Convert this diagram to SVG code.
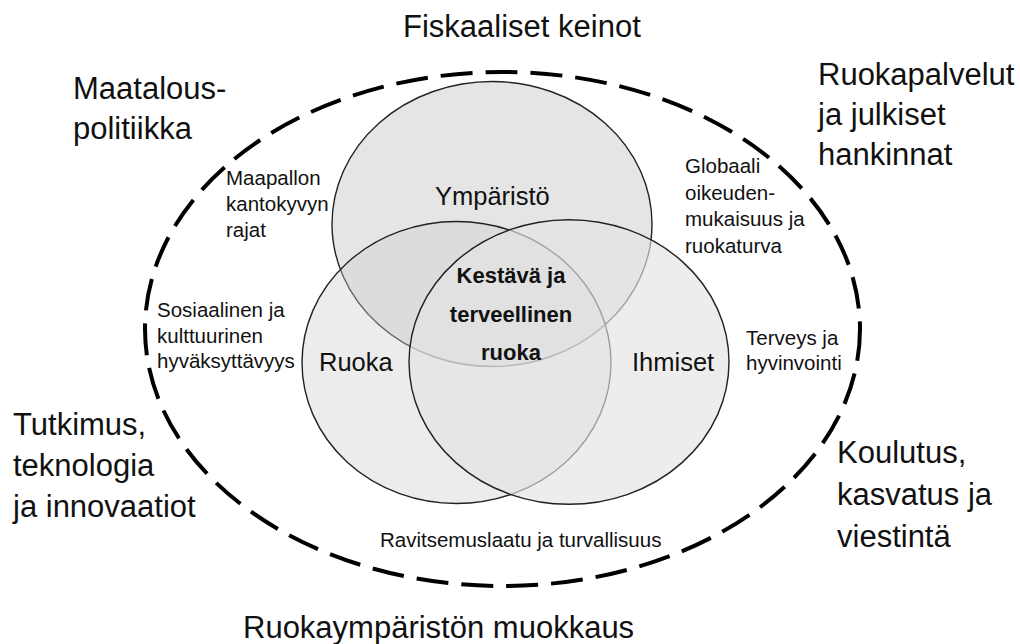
<svg xmlns="http://www.w3.org/2000/svg" width="1020" height="644" viewBox="0 0 1020 644">
<style>
text{font-family:"Liberation Sans",Arial,sans-serif;fill:#111}
.big{font-size:31px}
.mid{font-size:25.5px}
.sm{font-size:20.5px}
.bold{font-size:22px;font-weight:bold;text-anchor:middle}
.venn{stroke:#222;stroke-width:1.4}
</style>
<rect width="1020" height="644" fill="#fff"/>
<g id="frame">
<ellipse cx="502.5" cy="329" rx="357.5" ry="257" fill="none" stroke="#000" stroke-width="4" stroke-dasharray="32 13"/>
</g>
<g id="ymparisto">
<ellipse class="venn" cx="492" cy="224" rx="160" ry="142.5" fill="#e5e5e5" stroke="#333"/>
<text class="mid" x="435" y="205">Ympäristö</text>
</g>
<g id="ruoka">
<ellipse class="venn" cx="456.5" cy="362.5" rx="154.5" ry="141" fill="#cdcdcd" fill-opacity="0.385"/>
<text class="mid" x="319" y="371">Ruoka</text>
</g>
<g id="ihmiset">
<ellipse class="venn" cx="569" cy="362" rx="160" ry="142.3" fill="#e4e4e4" fill-opacity="0.65"/>
<text class="mid" x="632" y="371">Ihmiset</text>
</g>
<g id="keskus">
<text class="bold" x="511" y="283">Kestävä ja</text>
<text class="bold" x="511" y="322">terveellinen</text>
<text class="bold" x="511" y="360">ruoka</text>
</g>
<g id="connectors"></g>
<g id="maapallo">
<text class="sm" x="226" y="185">Maapallon</text>
<text class="sm" x="226" y="211">kantokyvyn</text>
<text class="sm" x="226" y="237">rajat</text>
</g>
<g id="globaali">
<text class="sm" x="685" y="173">Globaali</text>
<text class="sm" x="685" y="200">oikeuden-</text>
<text class="sm" x="685" y="226">mukaisuus ja</text>
<text class="sm" x="685" y="253">ruokaturva</text>
</g>
<g id="sosiaalinen">
<text class="sm" x="157" y="317">Sosiaalinen ja</text>
<text class="sm" x="157" y="343">kulttuurinen</text>
<text class="sm" x="157" y="368">hyväksyttävyys</text>
</g>
<g id="terveys">
<text class="sm" x="746" y="345">Terveys ja</text>
<text class="sm" x="746" y="370">hyvinvointi</text>
</g>
<g id="ravitsemus">
<text class="sm" x="380" y="547">Ravitsemuslaatu ja turvallisuus</text>
</g>
<g id="fiskaaliset">
<text class="big" x="403" y="37">Fiskaaliset keinot</text>
</g>
<g id="maatalous">
<text class="big" x="73" y="99">Maatalous-</text>
<text class="big" x="73" y="139">politiikka</text>
</g>
<g id="ruokapalvelut">
<text class="big" x="818" y="85">Ruokapalvelut</text>
<text class="big" x="818" y="125">ja julkiset</text>
<text class="big" x="818" y="165">hankinnat</text>
</g>
<g id="tutkimus">
<text class="big" x="13" y="435">Tutkimus,</text>
<text class="big" x="13" y="476">teknologia</text>
<text class="big" x="13" y="517">ja innovaatiot</text>
</g>
<g id="koulutus">
<text class="big" x="837" y="463">Koulutus,</text>
<text class="big" x="837" y="505">kasvatus ja</text>
<text class="big" x="837" y="547">viestintä</text>
</g>
<g id="ruokaymparisto">
<text class="big" x="243" y="638">Ruokaympäristön muokkaus</text>
</g>
</svg>
